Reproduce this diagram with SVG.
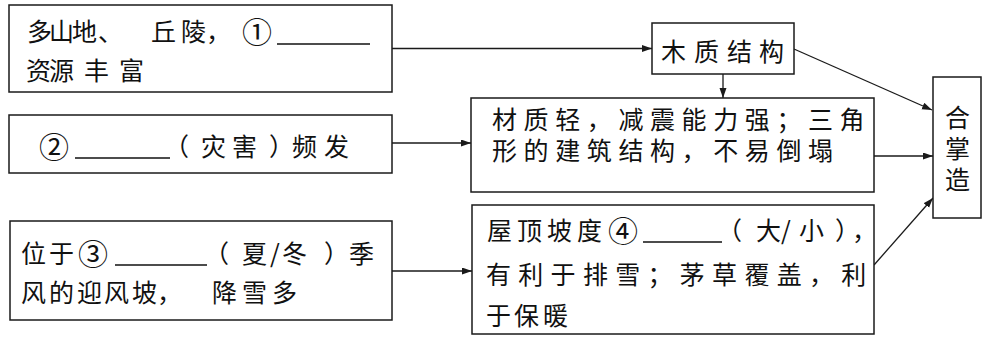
<svg xmlns="http://www.w3.org/2000/svg" width="986" height="340" viewBox="0 0 986 340">
<style>
.box{fill:#fff;stroke:#1a1a1a;stroke-width:1.5}
.t{font-family:"Noto Sans CJK SC","Noto Sans CJK JP",sans-serif;font-size:25px;fill:#111}
.n{font-family:"Noto Sans CJK SC","Noto Sans CJK JP",sans-serif;font-size:30px;fill:#111}
.ul{stroke:#111;stroke-width:1.6}
.c{fill:none;stroke:#1a1a1a;stroke-width:1.3}
</style>
<defs>
<marker id="ah" markerUnits="userSpaceOnUse" markerWidth="11" markerHeight="8" refX="10" refY="3.5" orient="auto">
<path d="M0,0 L10,3.5 L0,7 z" fill="#1a1a1a"/>
</marker>
</defs>
<rect width="986" height="340" fill="#fff"/>
<g id="connectors">
<line class="c" x1="392" y1="48.5" x2="652" y2="48.5" marker-end="url(#ah)"/>
<line class="c" x1="723" y1="74" x2="723" y2="98" marker-end="url(#ah)"/>
<line class="c" x1="794" y1="49" x2="932" y2="110" marker-end="url(#ah)"/>
<line class="c" x1="392" y1="143" x2="471" y2="143" marker-end="url(#ah)"/>
<line class="c" x1="874" y1="156" x2="933" y2="156" marker-end="url(#ah)"/>
<line class="c" x1="392" y1="271" x2="472" y2="271" marker-end="url(#ah)"/>
<line class="c" x1="874" y1="265" x2="933" y2="198" marker-end="url(#ah)"/>
</g>
<g id="n1">
<rect class="box" x="9" y="5" width="383" height="87"/>
<text class="t" y="41" x="27 49 72 98 151 181 206">多山地、丘陵，</text>
<text class="n" y="43" x="242">①</text>
<line class="ul" x1="277" y1="44" x2="370" y2="44"/>
<text class="t" y="80" x="26 49 84 119">资源丰富</text>
</g>
<g id="n2">
<rect class="box" x="9" y="115" width="383" height="58"/>
<text class="n" y="158" x="39">②</text>
<line class="ul" x1="75" y1="158" x2="170" y2="158"/>
<text class="t" y="156" x="164 201 232 269 292 324">（灾害）频发</text>
</g>
<g id="n3">
<rect class="box" x="10" y="221" width="382" height="99"/>
<text class="t" y="263" x="21 49">位于</text>
<text class="n" y="265" x="78">③</text>
<line class="ul" x1="115" y1="265" x2="207" y2="265"/>
<text class="t" y="263" x="204 242 270 282 324 349">（夏/冬）季</text>
<text class="t" y="302" x="21 49 77 104 132 157 212 242 272">风的迎风坡，降雪多</text>
</g>
<g id="n4">
<rect class="box" x="652" y="23" width="142" height="51"/>
<text class="t" y="61" x="661 694 727 759">木质结构</text>
</g>
<g id="n5">
<rect class="box" x="471" y="98" width="403" height="94"/>
<text class="t" y="129" x="492" letter-spacing="6.6">材质轻，减震能力强；三角</text>
<text class="t" y="160" x="492" letter-spacing="6.6">形的建筑结构，不易倒塌</text>
</g>
<g id="n6">
<rect class="box" x="472" y="205" width="402" height="129"/>
<text class="t" y="240" x="487 517 547 577">屋顶坡度</text>
<text class="n" y="242" x="608">④</text>
<line class="ul" x1="643" y1="242" x2="722" y2="242"/>
<text class="t" y="240" x="717 756 781 799 835 852">（大/小），</text>
<text class="t" y="284" x="486" letter-spacing="7.3">有利于排雪；茅草覆盖，利</text>
<text class="t" y="325" x="486 514 543">于保暖</text>
</g>
<g id="n7">
<rect class="box" x="933" y="77" width="48" height="141"/>
<text class="t" x="945" y="127">合</text>
<text class="t" x="945" y="158">掌</text>
<text class="t" x="945" y="189">造</text>
</g>
</svg>
